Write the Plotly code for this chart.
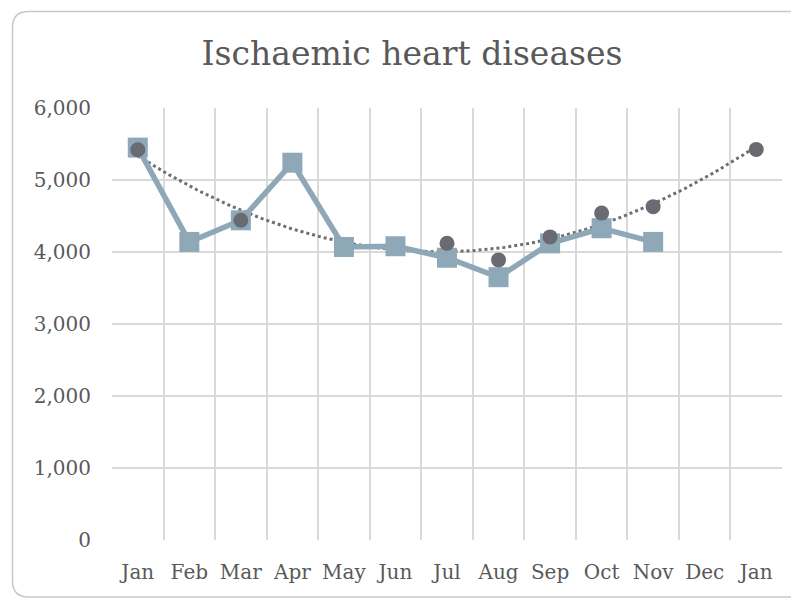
import numpy as np
import plotly.graph_objects as go

month_labels = ["Jan", "Feb", "Mar", "Apr", "May", "Jun", "Jul", "Aug", "Sep", "Oct", "Nov", "Dec", "Jan"]
series_main = [5450, 4140, 4440, 5240, 4070, 4080, 3920, 3650, 4120, 4330, 4140, None, None]
series_dots = [5420, None, 4440, None, None, None, 4120, 3890, 4210, 4540, 4630, None, 5425]
y_ticks = [0, 1000, 2000, 3000, 4000, 5000, 6000]

x_idx = list(range(len(month_labels)))

# polynomial (order 2) trendline fitted on the dot series
px_ = [i for i, v in zip(x_idx, series_dots) if v is not None]
py_ = [v for v in series_dots if v is not None]
coef = np.polyfit(px_, py_, 2)
tx = np.linspace(px_[0], px_[-1], 200)
ty = np.polyval(coef, tx)

OFF = 8  # page offset of the figure
W, H = 799, 599
L, T = 112 - OFF, 108 - OFF
R = W - (782 - OFF)
B = H - (540 - OFF)
PW, PH = W - L - R, H - T - B

def pxx(x):
    return (x - OFF - L) / PW

def pxy(y):
    return (H - B - (y - OFF)) / PH

serif = "DejaVu Serif, serif"
txt = "#595959"

fig = go.Figure()
fig.add_trace(go.Scatter(x=tx, y=ty, mode="lines",
                         line=dict(color="#6f6f6f", width=3, dash="dot"),
                         hoverinfo="skip", showlegend=False))
fig.add_trace(go.Scatter(x=x_idx, y=series_main, mode="lines+markers",
                         line=dict(color="#8fa8b8", width=5.5),
                         marker=dict(symbol="square", size=20, color="#8fa8b8"),
                         connectgaps=False, showlegend=False))
fig.add_trace(go.Scatter(x=x_idx, y=series_dots, mode="markers",
                         marker=dict(symbol="circle", size=15, color="#6a6a72"),
                         showlegend=False))

# card border
x0, x1 = pxx(12.5), pxx(812)
y0, y1 = pxy(597), pxy(11.5)
rx, ry = 16 / PW, 16 / PH
path = (f"M {x1},{y1} L {x0+rx},{y1} Q {x0},{y1} {x0},{y1-ry} "
        f"L {x0},{y0+ry} Q {x0},{y0} {x0+rx},{y0} L {x1},{y0}")
fig.add_shape(type="path", path=path, xref="paper", yref="paper",
              line=dict(color="#c8c8c8", width=1.5), layer="below")

fig.update_layout(
    width=W, height=H,
    margin=dict(l=L, r=R, t=T, b=B),
    paper_bgcolor="white", plot_bgcolor="white",
    title=dict(text="Ischaemic heart diseases", x=(412 - OFF) / W, xref="container",
               y=1 - (53 - OFF) / H, yref="container", xanchor="center", yanchor="middle",
               font=dict(family=serif, size=33, color=txt)),
    xaxis=dict(range=[-0.5, len(month_labels) - 0.5], tickmode="array",
               tickvals=x_idx, ticktext=month_labels, showgrid=False,
               zeroline=False, showline=False, ticks="",
               ticklabelstandoff=18,
               tickfont=dict(family=serif, size=20, color=txt)),
    yaxis=dict(range=[0, 6000], tickmode="array", tickvals=y_ticks,
               ticktext=[f"{v:,}" for v in y_ticks], showgrid=True,
               gridcolor="#d9d9d9", gridwidth=1.5, zeroline=False, showline=False,
               ticks="", ticklabelstandoff=20,
               tickfont=dict(family=serif, size=20, color=txt)),
)
fig.update_xaxes(minor=dict(tickmode="array",
                            tickvals=[i - 0.5 for i in range(len(month_labels) + 1)],
                            showgrid=True, gridcolor="#d9d9d9", gridwidth=1.5, ticks=""))

fig.write_html("out.html")
